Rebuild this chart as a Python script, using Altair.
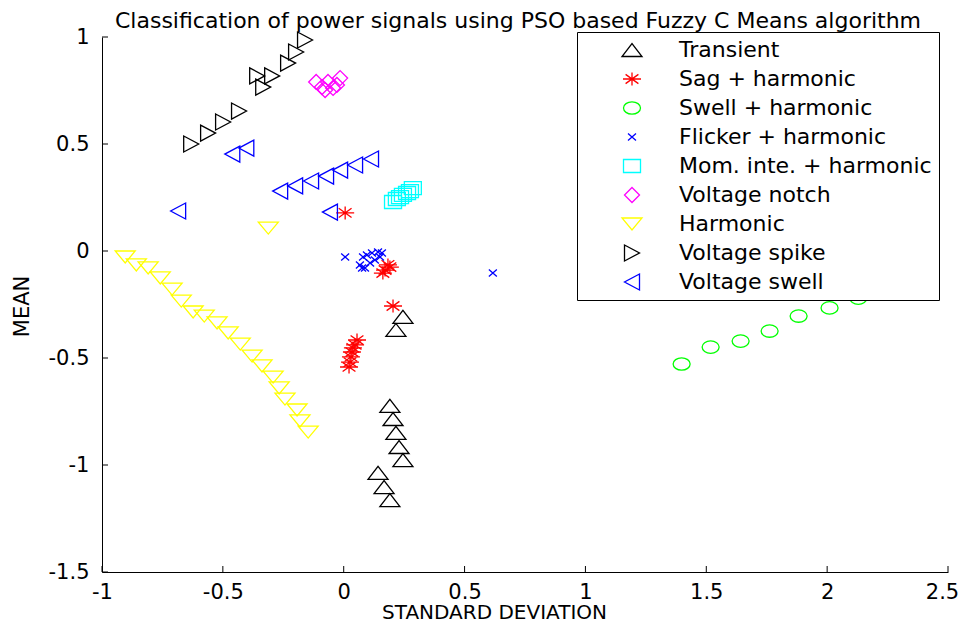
import altair as alt
import pandas as pd

title_text = "Classification of power signals using PSO based Fuzzy C Means algorithm"
categories = ["Transient", "Sag + harmonic", "Swell + harmonic", "Flicker + harmonic",
              "Mom. inte. + harmonic", "Voltage notch", "Harmonic", "Voltage spike", "Voltage swell"]
colors = ["#000000", "#FF0000", "#00FF00", "#0000FF", "#00FFFF", "#FF00FF", "#FFFF00", "#000000", "#0000FF"]
shapes = [
    "M-1,0.65L1,0.65L0,-0.65Z",                                   # triangle up
    "M-0.9,0L0.9,0M0,-0.65L0,0.65M-0.64,-0.46L0.64,0.46M-0.64,0.46L0.64,-0.46",  # asterisk
    "M-0.85,0A0.85,0.62,0,1,0,0.85,0A0.85,0.62,0,1,0,-0.85,0Z",   # circle
    "M-0.4,-0.35L0.4,0.35M-0.4,0.35L0.4,-0.35",                   # x
    "M-0.85,-0.65L0.85,-0.65L0.85,0.65L-0.85,0.65Z",              # square
    "M0,-0.75L0.75,0L0,0.75L-0.75,0Z",                            # diamond
    "M-1,-0.6L1,-0.6L0,0.6Z",                                     # triangle down
    "M-0.75,-0.8L0.75,0L-0.75,0.8Z",                              # triangle right
    "M0.75,-0.8L-0.75,0L0.75,0.8Z",                               # triangle left
]

transient_x = [0.245, 0.216, 0.191, 0.204, 0.216, 0.229, 0.245, 0.142, 0.167, 0.191]
transient_y = [-0.308, -0.369, -0.724, -0.785, -0.850, -0.916, -0.977, -1.037, -1.103, -1.164]

sag_x = [0.006, 0.183, 0.171, 0.162, 0.191, 0.204, 0.055, 0.047, 0.038, 0.034, 0.030, 0.026, 0.022]
sag_y = [0.178, -0.065, -0.089, -0.103, -0.075, -0.257, -0.416, -0.439, -0.453, -0.472, -0.495, -0.519, -0.542]

swellh_x = [1.398, 1.518, 1.642, 1.762, 1.882, 2.010, 2.129]
swellh_y = [-0.528, -0.449, -0.421, -0.374, -0.304, -0.266, -0.220]

flicker_x = [0.006, 0.080, 0.096, 0.117, 0.142, 0.158, 0.067, 0.088, 0.109, 0.129, 0.150, 0.076, 0.617]
flicker_y = [-0.028, -0.028, -0.019, -0.009, -0.005, -0.009, -0.065, -0.079, -0.056, -0.042, -0.028, -0.079, -0.103]

mom_x = [0.204, 0.220, 0.233, 0.245, 0.262, 0.274, 0.286]
mom_y = [0.229, 0.243, 0.252, 0.262, 0.271, 0.280, 0.294]

notch_x = [-0.114, -0.090, -0.065, -0.044, -0.015, -0.028, -0.077]
notch_y = [0.790, 0.766, 0.790, 0.762, 0.808, 0.776, 0.752]

harm_x = [-0.904, -0.858, -0.809, -0.759, -0.710, -0.672, -0.623, -0.577, -0.524, -0.478,
          -0.428, -0.379, -0.338, -0.292, -0.267, -0.243, -0.193, -0.181, -0.147, -0.312]
harm_y = [-0.028, -0.065, -0.079, -0.126, -0.178, -0.234, -0.285, -0.304, -0.336, -0.383,
          -0.435, -0.491, -0.537, -0.589, -0.640, -0.692, -0.743, -0.794, -0.846, 0.107]

spike_x = [-0.160, -0.197, -0.230, -0.296, -0.358, -0.333, -0.433, -0.499, -0.561, -0.631]
spike_y = [0.986, 0.930, 0.878, 0.818, 0.818, 0.766, 0.654, 0.603, 0.551, 0.500]

vswell_x = [-0.685, -0.461, -0.403, -0.263, -0.201, -0.135, -0.073, -0.015, 0.047, 0.113, -0.057]
vswell_y = [0.187, 0.453, 0.481, 0.280, 0.304, 0.327, 0.350, 0.378, 0.402, 0.430, 0.182]

x_ticks = [-1, -0.5, 0, 0.5, 1, 1.5, 2, 2.5]
y_ticks = [-1.5, -1, -0.5, 0, 0.5, 1]

all_x = [transient_x, sag_x, swellh_x, flicker_x, mom_x, notch_x, harm_x, spike_x, vswell_x]
all_y = [transient_y, sag_y, swellh_y, flicker_y, mom_y, notch_y, harm_y, spike_y, vswell_y]

rows = []
for cat, xs, ys in zip(categories, all_x, all_y):
    for xv, yv in zip(xs, ys):
        rows.append({"series": cat, "x": xv, "y": yv})
df = pd.DataFrame(rows)

FONT = "DejaVu Sans"
W, H = 846, 535

xscale = alt.Scale(domain=[-1, 2.5], nice=False, zero=False)
yscale = alt.Scale(domain=[-1.5, 1], nice=False, zero=False)

xaxis = alt.Axis(values=x_ticks, grid=False, tickSize=0, labelPadding=9, labelFlush=False,
                 labelOverlap=False, labelExpr="'' + datum.value",
                 labelOffset={"condition": {"test": "datum.value == 2.5", "value": -6}, "value": 0},
                 titleFontSize=20, titleX=392, titleY=46, titleBaseline="alphabetic",
                 titleAlign="center")
yaxis = alt.Axis(values=y_ticks, grid=False, tickSize=0, labelPadding=13, labelFlush=False,
                 labelOverlap=False, labelExpr="'' + datum.value",
                 titleX=-80, titleY=269, titleBaseline="middle", titleAlign="center")

leg = alt.Legend(title=None, orient="none", legendX=475, legendY=-5,
                 fillColor="white", strokeColor="black", padding=7,
                 symbolOffset=37, labelOffset=36, rowPadding=7,
                 labelFontSize=22, labelFont=FONT, labelColor="black",
                 symbolSize=400, symbolStrokeWidth=1.3, labelLimit=500)

points = alt.Chart(df).mark_point(filled=False, size=400, strokeWidth=1.3, opacity=1).encode(
    x=alt.X("x:Q", scale=xscale, axis=xaxis, title="STANDARD DEVIATION"),
    y=alt.Y("y:Q", scale=yscale, axis=yaxis, title="MEAN"),
    color=alt.Color("series:N", scale=alt.Scale(domain=categories, range=colors), legend=leg),
    shape=alt.Shape("series:N", scale=alt.Scale(domain=categories, range=shapes), legend=leg),
)

xt = alt.Chart(pd.DataFrame({"v": x_ticks})).mark_rule(color="black", strokeWidth=1).encode(
    x=alt.X("v:Q", scale=xscale, axis=xaxis, title="STANDARD DEVIATION"),
    y=alt.value(H), y2=alt.value(H - 6))
yt = alt.Chart(pd.DataFrame({"v": y_ticks})).mark_rule(color="black", strokeWidth=1).encode(
    y=alt.Y("v:Q", scale=yscale, axis=yaxis, title="MEAN"),
    x=alt.value(0), x2=alt.value(6))

ttl = alt.Chart(pd.DataFrame({"t": [title_text]})).mark_text(
    font=FONT, fontSize=22, color="black", align="center", baseline="alphabetic"
).encode(text="t:N", x=alt.value(416), y=alt.value(-9))

chart = alt.layer(points, xt, yt, ttl).properties(
    width=W, height=H,
    autosize=alt.AutoSizeParams(type="none"),
    padding={"left": 94, "top": 29, "right": 11, "bottom": 47},
).configure_view(stroke=None).configure_axis(
    domainColor="black", domainWidth=1, labelColor="black", labelFont=FONT, labelFontSize=21,
    titleFont=FONT, titleFontSize=21, titleFontWeight="normal", titleColor="black"
)

chart.save("out.html", embed_options={"renderer": "svg", "actions": False})
